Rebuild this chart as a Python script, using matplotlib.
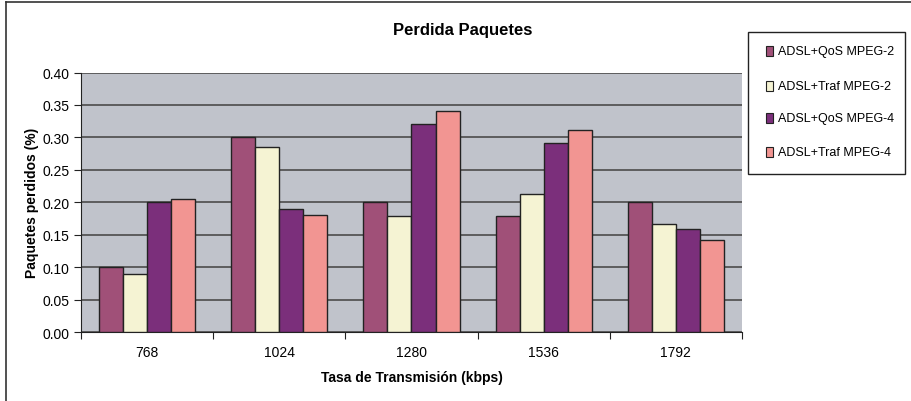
import matplotlib.pyplot as plt
import numpy as np
from matplotlib.patches import Rectangle
from matplotlib.lines import Line2D

plt.rcParams['font.family'] = ['Liberation Sans', 'DejaVu Sans']

categories = ['768', '1024', '1280', '1536', '1792']
series = ['ADSL+QoS MPEG-2', 'ADSL+Traf MPEG-2', 'ADSL+QoS MPEG-4', 'ADSL+Traf MPEG-4']
qos_mpeg2 = [0.10, 0.30, 0.20, 0.179, 0.20]
traf_mpeg2 = [0.089, 0.285, 0.179, 0.212, 0.167]
qos_mpeg4 = [0.20, 0.19, 0.321, 0.291, 0.159]
traf_mpeg4 = [0.205, 0.18, 0.340, 0.311, 0.142]
colors = ['#A05078', '#F5F3D3', '#7B2F7B', '#F29592']

fig = plt.figure(figsize=(9.12, 4.02), dpi=100)
ax = fig.add_axes([0.0888, 0.1716, 0.7248, 0.6455])
ax.set_facecolor('#C0C3CB')

x = np.arange(len(categories))
w = 1 / 5.5
for i, vals in enumerate([qos_mpeg2, traf_mpeg2, qos_mpeg4, traf_mpeg4]):
    ax.bar(x + (i - 1.5) * w, vals, w, color=colors[i], edgecolor='#222222',
           linewidth=1.0, zorder=3)

ax.set_xlim(-0.5, len(categories) - 0.5)
ax.set_ylim(0, 0.40)
ax.set_yticks(np.arange(0, 0.401, 0.05))
ax.set_yticklabels([f'{v:.2f}' for v in np.arange(0, 0.401, 0.05)], fontsize=10)
ax.yaxis.grid(True, color='#555555', linewidth=1.3, zorder=1)
ax.set_axisbelow(True)

ax.set_xticks(np.arange(-0.5, len(categories), 1), minor=False)
ax.set_xticklabels([])
ax.set_xticks(x, minor=True)
ax.set_xticklabels(categories, minor=True, fontsize=10)
ax.tick_params(axis='x', which='minor', length=0, pad=9)
ax.tick_params(axis='x', which='major', length=5, direction='out', color='#222222')
ax.tick_params(axis='y', length=5, direction='out', color='#222222', pad=3)

for s in ['top', 'right']:
    ax.spines[s].set_visible(False)
ax.spines['left'].set_color('#222222')
ax.spines['bottom'].set_color('#222222')

ax.set_xlabel('Tasa de Transmisión (kbps)', fontsize=10, fontweight='bold', labelpad=8)
ax.set_ylabel('Paquetes perdidos (%)', fontsize=10, fontweight='bold', labelpad=3)
fig.text(0.507, 0.925, 'Perdida Paquetes', ha='center', va='center', fontsize=12,
         fontweight='bold')

# legend box
fig.patches.append(Rectangle((0.820, 0.565), 0.172, 0.353, transform=fig.transFigure,
                             facecolor='white', edgecolor='#222222', linewidth=1.0))
ys = [0.870, 0.784, 0.704, 0.620]
for name, c, yy in zip(series, colors, ys):
    fig.patches.append(Rectangle((0.840, yy - 0.012), 0.0075, 0.024,
                                 transform=fig.transFigure, facecolor=c,
                                 edgecolor='#222222', linewidth=0.8))
    fig.text(0.853, yy, name, ha='left', va='center', fontsize=9)

# outer chart frame (top and left edges visible)
fig.lines.append(Line2D([0.0065, 1.0], [0.993, 0.993], transform=fig.transFigure,
                        color='#333333', linewidth=1.2))
fig.lines.append(Line2D([0.0065, 0.0065], [0.0, 0.993], transform=fig.transFigure,
                        color='#333333', linewidth=1.2))

fig.savefig('out.png', dpi=100)
